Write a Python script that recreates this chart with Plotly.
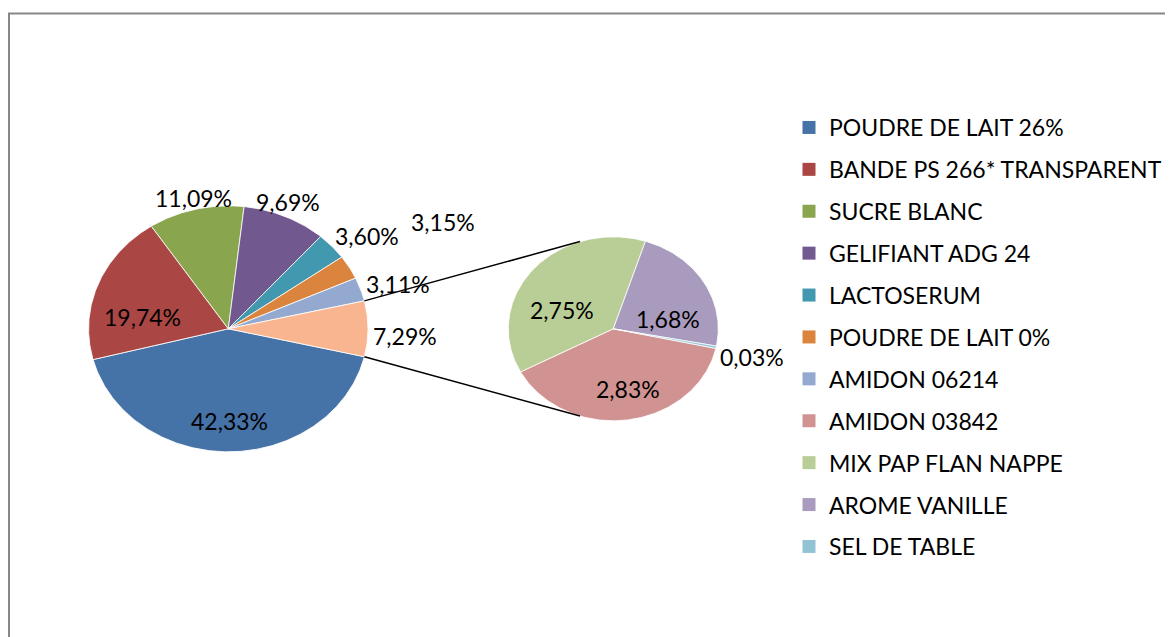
import math
import plotly.graph_objects as go

# ---------------- data ----------------
main_labels = ["POUDRE DE LAIT 26%", "BANDE PS 266* TRANSPARENT", "SUCRE BLANC",
               "GELIFIANT ADG 24", "LACTOSERUM", "POUDRE DE LAIT 0%", "AMIDON 06214"]
main_values = [42.33, 19.74, 11.09, 9.69, 3.60, 3.15, 3.11]
sub_labels = ["AMIDON 03842", "MIX PAP FLAN NAPPE", "AROME VANILLE", "SEL DE TABLE"]
sub_values = [2.83, 2.75, 1.68, 0.03]
other_value = round(sum(sub_values), 2)

main_colors = ["#4572A7", "#AA4643", "#89A54E", "#71588F", "#4198AF", "#DB843D", "#93A9CF"]
sub_colors = ["#D19392", "#B9CD96", "#A99BBD", "#91C3D5"]
other_color = "#F9B590"

# ---------------- layout geometry (page pixels) ----------------
W, H = 1173, 637
OFF = 8                   # default body margin of the html page
MAIN_C, MAIN_R = (228.3, 328.8), (139.7, 123.0)
SUB_C, SUB_R = (613.3, 328.8), (105.0, 92.0)
SUB_START = 12.3          # degrees, clockwise from 3 o'clock
CONNECT_ANGLE = 108.5     # where connector lines meet the secondary pie
FONT = "Lato"
FS = 23

# label placement: (radius fraction, angle offset deg)
main_lab_pos = [(0.75, 0.3), (0.62, -12), (1.09, 0.2), (1.113, -1.4), (1.25, 4.8), (1.768, 0.5), (1.27, 2.1)]
other_lab_pos = (1.266, 2.5)
sub_lab_pos = [(0.672, -4), (0.532, -17.3), (0.529, 19.1), (1.354, 1.6)]


def fmt(v):
    return f"{v:.2f}".replace(".", ",") + "%"


def wedge(c, r, a0, a1):
    n = max(3, int(abs(a1 - a0) / 0.5) + 2)
    xs, ys = [c[0]], [c[1]]
    for i in range(n):
        a = math.radians(a0 + (a1 - a0) * i / (n - 1))
        xs.append(c[0] + r[0] * math.cos(a))
        ys.append(c[1] + r[1] * math.sin(a))
    xs.append(c[0]); ys.append(c[1])
    return xs, ys


def pt(c, r, a, f=1.0):
    a = math.radians(a)
    return c[0] + f * r[0] * math.cos(a), c[1] + f * r[1] * math.sin(a)


fig = go.Figure()
annotations = []

# main pie: values in order, then "other"
tot = sum(main_values) + other_value
start = other_value / tot * 360 / 2
a = start
for v, col, lp in zip(main_values, main_colors, main_lab_pos):
    span = v / tot * 360
    xs, ys = wedge(MAIN_C, MAIN_R, a, a + span)
    fig.add_trace(go.Scatter(x=xs, y=ys, fill="toself", fillcolor=col, mode="lines",
                             line=dict(color="white", width=0.8), showlegend=False, hoverinfo="skip"))
    lx, ly = pt(MAIN_C, MAIN_R, a + span / 2 + lp[1], lp[0])
    annotations.append(dict(x=lx, y=ly, text=fmt(v)))
    a += span
span = other_value / tot * 360
xs, ys = wedge(MAIN_C, MAIN_R, a, a + span)
fig.add_trace(go.Scatter(x=xs, y=ys, fill="toself", fillcolor=other_color, mode="lines",
                         line=dict(color="white", width=0.8), showlegend=False, hoverinfo="skip"))
lx, ly = pt(MAIN_C, MAIN_R, a + span / 2 + other_lab_pos[1], other_lab_pos[0])
annotations.append(dict(x=lx, y=ly, text=fmt(other_value)))
other_a0, other_a1 = a, a + span

# secondary pie
stot = sum(sub_values)
a = SUB_START
for v, col, lp in zip(sub_values, sub_colors, sub_lab_pos):
    span = v / stot * 360
    xs, ys = wedge(SUB_C, SUB_R, a, a + span)
    fig.add_trace(go.Scatter(x=xs, y=ys, fill="toself", fillcolor=col, mode="lines",
                             line=dict(color="white", width=0.8), showlegend=False, hoverinfo="skip"))
    lx, ly = pt(SUB_C, SUB_R, a + span / 2 + lp[1], lp[0])
    annotations.append(dict(x=lx, y=ly, text=fmt(v)))
    a += span

# connector lines
shapes = []
p_up = pt(MAIN_C, MAIN_R, other_a0)
p_dn = pt(MAIN_C, MAIN_R, other_a1)
q_up = pt(SUB_C, SUB_R, -CONNECT_ANGLE)
q_dn = pt(SUB_C, SUB_R, CONNECT_ANGLE)
for p, q in [(p_up, q_up), (p_dn, q_dn)]:
    shapes.append(dict(type="line", xref="x", yref="y", x0=p[0], y0=p[1], x1=q[0], y1=q[1],
                       line=dict(color="black", width=1.5)))
# chart border
shapes.append(dict(type="rect", xref="x", yref="y", x0=9, y0=13.5, x1=W + 20, y1=H + 20,
                   line=dict(color="#878787", width=2), fillcolor="rgba(0,0,0,0)", layer="below"))

# legend entries
for name, col in zip(main_labels + sub_labels, main_colors + sub_colors):
    fig.add_trace(go.Scatter(x=[None], y=[None], mode="markers", name=name, legendgroup=name,
                             marker=dict(symbol="square", size=13, color=col)))

for an in annotations:
    an.update(xref="x", yref="y", showarrow=False, font=dict(family=FONT, size=FS, color="black"))

FW, FH = W, H
fig.update_layout(
    width=FW, height=FH, margin=dict(l=0, r=0, t=0, b=0),
    paper_bgcolor="white", plot_bgcolor="white",
    xaxis=dict(range=[OFF, W + OFF], visible=False, fixedrange=True),
    yaxis=dict(range=[H + OFF, OFF], visible=False, fixedrange=True),
    annotations=annotations, shapes=shapes,
    showlegend=True,
    legend=dict(x=(789 - OFF) / FW, y=1 - (106 - OFF) / FH, xanchor="left", yanchor="top",
                font=dict(family=FONT, size=FS, color="black"),
                traceorder="grouped", tracegroupgap=9, bgcolor="rgba(0,0,0,0)"),
    font=dict(family=FONT),
)
fig.write_html("out.html")
